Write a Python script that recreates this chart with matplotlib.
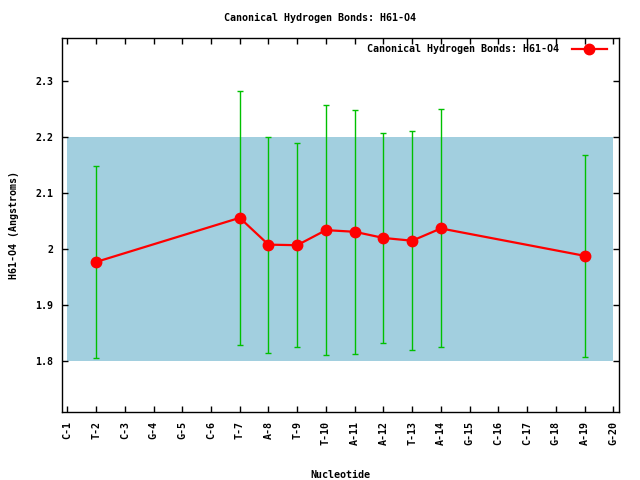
import matplotlib
matplotlib.use("Agg")
import matplotlib.pyplot as plt
from matplotlib.ticker import FuncFormatter

labels = ["C-1", "T-2", "C-3", "G-4", "G-5", "C-6", "T-7", "A-8", "T-9", "T-10",
          "A-11", "A-12", "T-13", "A-14", "G-15", "C-16", "C-17", "G-18", "A-19", "G-20"]
pos = [2, 7, 8, 9, 10, 11, 12, 13, 14, 19]
mean = [1.977, 2.056, 2.008, 2.007, 2.034, 2.031, 2.020, 2.015, 2.037, 1.988]
err = [0.172, 0.227, 0.193, 0.183, 0.223, 0.218, 0.188, 0.196, 0.213, 0.181]
band_lo, band_hi = 1.8, 2.2
yticks = [1.8, 1.9, 2.0, 2.1, 2.2, 2.3]

plt.rcParams['font.family'] = ['DejaVu Sans Mono']
plt.rcParams['font.weight'] = 'bold'
fs = 7.2

fig = plt.figure(figsize=(6.4, 4.8), dpi=100)
ax = fig.add_axes([0.0964, 0.141, 0.9677 - 0.0964, 0.920 - 0.141])

ax.fill_between([1, 20], band_lo, band_hi, color='#a2cfdf', linewidth=0, zorder=0)
ax.errorbar(pos, mean, yerr=err, fmt='none', ecolor='#00c000', elinewidth=1.0,
            capsize=2.5, capthick=1.0, zorder=2)
ax.plot(pos, mean, color='#ff0000', linewidth=1.6, marker='o', markersize=7.5,
        label='Canonical Hydrogen Bonds: H61-O4', zorder=3)

ax.set_xlim(0.805, 20.21)
ax.set_ylim(1.708, 2.377)
ax.set_xticks(range(1, 21))
ax.set_xticklabels(labels, rotation=90, fontsize=fs, fontweight='bold')
ax.set_yticks(yticks)
ax.yaxis.set_major_formatter(FuncFormatter(lambda v, p: '%g' % round(v, 2)))
for t in ax.get_yticklabels():
    t.set_fontsize(fs)
    t.set_fontweight('bold')
ax.tick_params(direction='in', top=True, right=True, length=4, width=1, labelsize=fs, pad=6)
for s in ax.spines.values():
    s.set_linewidth(1)

ax.set_xlabel('Nucleotide', fontsize=fs, fontweight='bold', labelpad=18)
ax.set_ylabel('H61-O4 (Angstroms)', fontsize=fs, fontweight='bold', labelpad=12)
fig.text(0.5, 0.9625, 'Canonical Hydrogen Bonds: H61-O4', ha='center', va='center',
         fontsize=fs, fontweight='bold')

leg = ax.legend(loc='upper right', bbox_to_anchor=(0.99, 1.003), frameon=False,
                markerfirst=False, fontsize=fs, handlelength=3.5, handletextpad=1.3,
                borderaxespad=0.3)

fig.savefig('out.png', dpi=100)
